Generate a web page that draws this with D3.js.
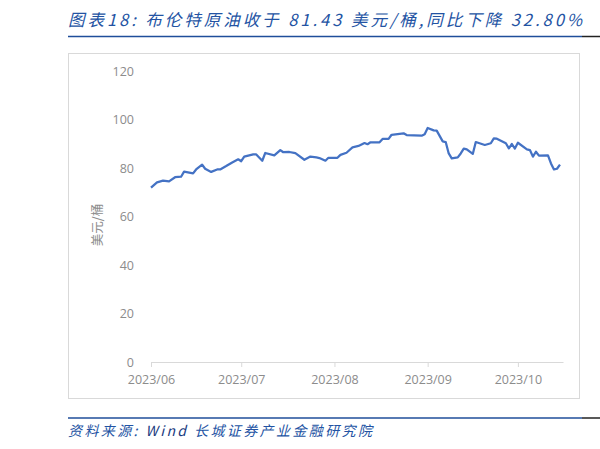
<!DOCTYPE html>
<html>
<head>
<meta charset="utf-8">
<script src="https://cdn.jsdelivr.net/npm/d3@7"></script>
<style>
  body { margin: 0; background: #fff; }
  svg { display: block; }
</style>
</head>
<body>
<svg id="chart" width="600" height="449"></svg>
<script>
// Brent crude, USD/bbl
const dates = [
  "2023-06-01", "2023-06-03", "2023-06-05", "2023-06-07", "2023-06-09", "2023-06-11",
  "2023-06-12", "2023-06-15", "2023-06-16", "2023-06-18", "2023-06-19", "2023-06-21",
  "2023-06-23", "2023-06-24", "2023-06-26", "2023-06-28", "2023-06-30", "2023-07-01",
  "2023-07-02", "2023-07-05", "2023-07-06", "2023-07-08", "2023-07-09", "2023-07-12",
  "2023-07-14", "2023-07-15", "2023-07-17", "2023-07-19", "2023-07-22", "2023-07-24",
  "2023-07-26", "2023-07-27", "2023-07-29", "2023-07-30", "2023-08-02", "2023-08-03",
  "2023-08-05", "2023-08-07", "2023-08-09", "2023-08-11", "2023-08-12", "2023-08-13",
  "2023-08-16", "2023-08-17", "2023-08-19", "2023-08-20", "2023-08-24", "2023-08-25",
  "2023-08-30", "2023-08-31", "2023-09-01", "2023-09-03", "2023-09-04", "2023-09-06",
  "2023-09-07", "2023-09-08", "2023-09-09", "2023-09-11", "2023-09-12", "2023-09-13",
  "2023-09-14", "2023-09-16", "2023-09-17", "2023-09-20", "2023-09-22", "2023-09-23",
  "2023-09-24", "2023-09-27", "2023-09-28", "2023-09-29", "2023-09-30", "2023-10-01",
  "2023-10-04", "2023-10-05", "2023-10-06", "2023-10-07", "2023-10-08", "2023-10-11",
  "2023-10-12", "2023-10-13", "2023-10-14", "2023-10-15"
];
const brent = [
  71.9, 74.1, 74.8, 74.5, 76.2, 76.4,
  78.5, 77.8, 79.4, 81.4, 79.7, 78.4,
  79.4, 79.4, 80.8, 82.3, 83.6, 82.8,
  84.7, 85.6, 85.6, 83.0, 86.2, 85.2,
  87.4, 86.5, 86.6, 86.1, 83.4, 84.7,
  84.4, 84.1, 83.0, 84.2, 84.2, 85.4,
  86.3, 88.5, 89.1, 90.3, 89.8, 90.6,
  90.6, 92.0, 92.0, 93.7, 94.3, 93.6,
  93.3, 93.9, 96.5, 95.5, 95.4, 91.0,
  90.7, 86.0, 84.0, 84.4, 86.0, 88.0,
  87.7, 85.8, 90.7, 89.5, 90.2, 92.2,
  92.1, 90.2, 88.1, 89.9, 88.0, 90.4,
  87.7, 87.4, 84.7, 86.7, 85.1, 85.2,
  81.9, 79.4, 79.7, 81.43
];
const xTickLabels = ["2023/06", "2023/07", "2023/08", "2023/09", "2023/10"];
const yTicks = [0, 20, 40, 60, 80, 100, 120];

const titleText = "图表18: 布伦特原油收于 81.43 美元/桶,同比下降 32.80%";
const sourceText = "资料来源: ";
const yLabel = "美元/桶";

const svg = d3.select("#chart");
const parse = d3.timeParse("%Y-%m-%d");
const data = dates.map((d, i) => ({ date: parse(d), value: brent[i] }));

const blue = "#2353a3";
const gray = "#8c8c8c";
const cjk = "'Noto Sans CJK SC', 'Noto Sans', sans-serif";

// title + rules
svg.append("text")
    .attr("x", 68)
    .attr("y", 26)
    .attr("textLength", 514)
    .attr("lengthAdjust", "spacing")
    .style("font-family", cjk)
    .style("font-style", "italic")
    .style("font-size", "16.5px")
    .style("fill", blue)
    .text(titleText);

svg.append("line")
    .attr("x1", 68).attr("x2", 582).attr("y1", 36.5).attr("y2", 36.5)
    .attr("stroke", "#1f4e9a").attr("stroke-width", 1.5);
svg.append("line")
    .attr("x1", 582).attr("x2", 600).attr("y1", 36.5).attr("y2", 36.5)
    .attr("stroke", "#222").attr("stroke-width", 1.5);

// chart frame
svg.append("rect")
    .attr("x", 68.5).attr("y", 53.5)
    .attr("width", 511).attr("height", 345)
    .attr("fill", "#fff")
    .attr("stroke", "#d9d9d9");

const x = d3.scaleTime()
    .domain([parse("2023-06-01"), parse("2023-10-16")])
    .range([151, 563]);

const y = d3.scaleLinear()
    .domain([0, 120])
    .range([362, 71]);

// x axis
const xTickDates = ["2023-06-01", "2023-07-01", "2023-08-01", "2023-09-01", "2023-10-01"].map(parse);
const xAxis = d3.axisBottom(x)
    .tickValues(xTickDates)
    .tickFormat((d, i) => xTickLabels[i])
    .tickSize(5)
    .tickSizeOuter(0)
    .tickPadding(8);

svg.append("g")
    .attr("transform", "translate(0,362)")
    .call(xAxis)
    .call(g => g.selectAll("path, line").attr("stroke", "#d9d9d9"))
    .call(g => g.selectAll("text")
        .style("fill", gray)
        .style("font-family", "'Open Sans', 'Noto Sans', sans-serif")
        .style("font-size", "12.5px"));

// y axis (labels only)
const yAxis = d3.axisLeft(y)
    .tickValues(yTicks)
    .tickSize(0)
    .tickPadding(17);

svg.append("g")
    .attr("transform", "translate(151,0)")
    .call(yAxis)
    .call(g => g.select(".domain").remove())
    .call(g => g.selectAll("text")
        .style("fill", gray)
        .style("font-family", "'Open Sans', 'Noto Sans', sans-serif")
        .style("font-size", "12.5px"));

svg.append("text")
    .attr("transform", "translate(102,225) rotate(-90)")
    .attr("text-anchor", "middle")
    .style("font-family", cjk)
    .style("font-size", "12.5px")
    .style("fill", gray)
    .text(yLabel);

// series
const line = d3.line()
    .x(d => x(d.date))
    .y(d => y(d.value));

svg.append("path")
    .datum(data)
    .attr("fill", "none")
    .attr("stroke", "#4472c4")
    .attr("stroke-width", 2.25)
    .attr("stroke-linejoin", "round")
    .attr("d", line);

// footer
svg.append("line")
    .attr("x1", 68).attr("x2", 582).attr("y1", 418).attr("y2", 418)
    .attr("stroke", "#1f4e9a").attr("stroke-width", 1.5);
svg.append("line")
    .attr("x1", 582).attr("x2", 600).attr("y1", 418).attr("y2", 418)
    .attr("stroke", "#222").attr("stroke-width", 1.5);

const src = svg.append("text")
    .attr("x", 68)
    .attr("y", 436)
    .attr("textLength", 304)
    .attr("lengthAdjust", "spacing")
    .style("font-family", cjk)
    .style("font-style", "italic")
    .style("font-size", "14px")
    .style("fill", blue);
src.append("tspan").text(sourceText);
src.append("tspan").style("fill", "#1a3a80").text("Wind");
src.append("tspan").text(" 长城证券产业金融研究院");
</script>
</body>
</html>
